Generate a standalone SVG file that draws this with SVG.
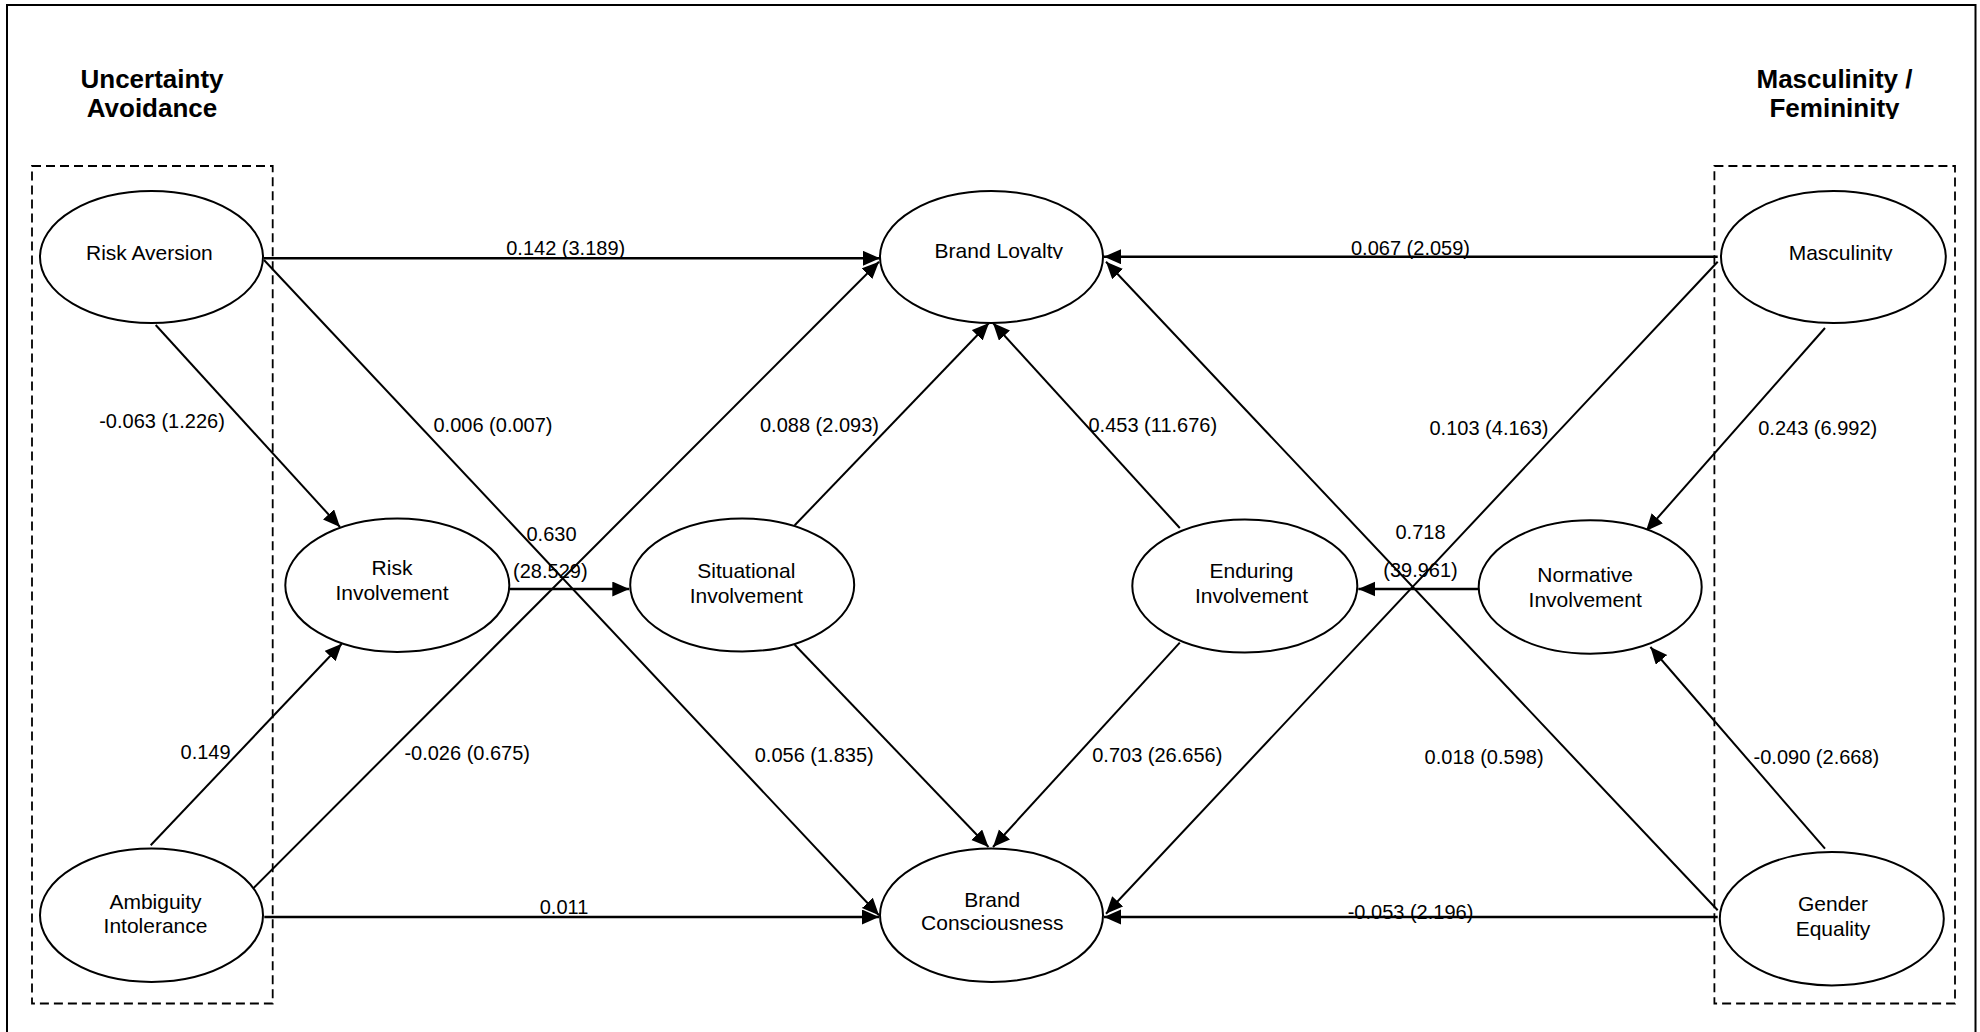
<svg xmlns="http://www.w3.org/2000/svg" width="1980" height="1032" viewBox="0 0 1980 1032">
  <style>
    .frame { fill: none; stroke: #000; stroke-width: 2; }
    .group { fill: none; stroke: #000; stroke-width: 1.8; stroke-dasharray: 9 5; }
    .node ellipse { fill: #fff; stroke: #000; stroke-width: 2; }
    .node text { font-family: "Liberation Sans", Arial, sans-serif; font-size: 21px; text-anchor: middle; fill: #000; }
    .title { font-family: "Liberation Sans", Arial, sans-serif; font-size: 26px; font-weight: bold; text-anchor: middle; fill: #000; }
    .edge { fill: none; stroke: #000; stroke-width: 2; marker-end: url(#arrow); }
    .edge.h { stroke-width: 2.6; }
    .lbl { font-family: "Liberation Sans", Arial, sans-serif; font-size: 20px; text-anchor: middle; fill: #000; }
  </style>
  <defs>
    <marker id="arrow" markerUnits="userSpaceOnUse" markerWidth="18" markerHeight="16" refX="17" refY="7.5" orient="auto">
      <path d="M0,0 L17,7.5 L0,15 Z" fill="#000"/>
    </marker>
    <clipPath id="clipLoyalty"><rect x="880" y="200" width="224" height="59"/></clipPath>
    <clipPath id="clipMasc"><rect x="1722" y="200" width="224" height="61"/></clipPath>
    <clipPath id="clipFem"><rect x="1700" y="90" width="270" height="29"/></clipPath>
  </defs>

  <rect width="1980" height="1032" fill="#fff"/>
  <!-- outer frame -->
  <rect class="frame" x="7" y="5" width="1968.5" height="1040"/>

  <!-- cultural dimension groupings -->
  <g id="uncertainty-avoidance">
    <text class="title" x="152" y="88">Uncertainty</text>
    <text class="title" x="152" y="117">Avoidance</text>
    <rect class="group" x="32" y="166" width="240.7" height="837.5"/>
  </g>
  <g id="masculinity-femininity">
    <text class="title" x="1834.5" y="88">Masculinity /</text>
    <text class="title" x="1834.5" y="117" clip-path="url(#clipFem)">Femininity</text>
    <rect class="group" x="1714.4" y="166" width="240.6" height="837.5"/>
  </g>

  <!-- connectors -->
  <g id="connectors">
    <line class="edge h" x1="264" y1="258.3" x2="880" y2="258.3"/>
    <line class="edge" x1="264" y1="260" x2="879" y2="915.3"/>
    <line class="edge" x1="155.7" y1="325" x2="340" y2="527"/>
    <line class="edge" x1="150.7" y1="845.3" x2="341.8" y2="643.7"/>
    <line class="edge" x1="251.3" y1="890.3" x2="879" y2="261.7"/>
    <line class="edge h" x1="264.3" y1="917" x2="879" y2="917"/>
    <line class="edge h" x1="509.3" y1="589" x2="629.3" y2="589"/>
    <line class="edge" x1="794.7" y1="525.3" x2="989" y2="323"/>
    <line class="edge" x1="794.7" y1="644.7" x2="988.5" y2="847"/>
    <line class="edge" x1="1179.8" y1="528" x2="993" y2="323"/>
    <line class="edge" x1="1179.8" y1="642.7" x2="993" y2="847"/>
    <line class="edge h" x1="1478" y1="589" x2="1358.3" y2="589"/>
    <line class="edge h" x1="1717.7" y1="256.7" x2="1104" y2="256.7"/>
    <line class="edge" x1="1717.7" y1="261.7" x2="1106" y2="913.7"/>
    <line class="edge" x1="1825" y1="328" x2="1646" y2="531"/>
    <line class="edge" x1="1825" y1="848.7" x2="1650.4" y2="647"/>
    <line class="edge" x1="1717.7" y1="910.3" x2="1106" y2="261.7"/>
    <line class="edge h" x1="1717.7" y1="917" x2="1104" y2="917"/>
  </g>

  <!-- path coefficients (t-values) -->
  <g id="labels">
    <text class="lbl" x="565.7" y="255">0.142 (3.189)</text>
    <text class="lbl" x="493" y="432">0.006 (0.007)</text>
    <text class="lbl" x="162" y="428">-0.063 (1.226)</text>
    <text class="lbl" x="205.6" y="758.7">0.149</text>
    <text class="lbl" x="467.2" y="760.3">-0.026 (0.675)</text>
    <text class="lbl" x="564" y="913.7">0.011</text>
    <text class="lbl" x="551.5" y="540.5">0.630</text>
    <text class="lbl" x="550.3" y="578">(28.529)</text>
    <text class="lbl" x="819.5" y="431.7">0.088 (2.093)</text>
    <text class="lbl" x="814.2" y="762">0.056 (1.835)</text>
    <text class="lbl" x="1152.8" y="431.7">0.453 (11.676)</text>
    <text class="lbl" x="1157.3" y="762">0.703 (26.656)</text>
    <text class="lbl" x="1420.5" y="539.3">0.718</text>
    <text class="lbl" x="1420.5" y="576.7">(39.961)</text>
    <text class="lbl" x="1410.5" y="255">0.067 (2.059)</text>
    <text class="lbl" x="1489" y="435">0.103 (4.163)</text>
    <text class="lbl" x="1817.7" y="435">0.243 (6.992)</text>
    <text class="lbl" x="1816.4" y="763.7">-0.090 (2.668)</text>
    <text class="lbl" x="1484.1" y="763.7">0.018 (0.598)</text>
    <text class="lbl" x="1410.5" y="919.3">-0.053 (2.196)</text>
  </g>

  <!-- constructs -->
  <g id="risk-aversion" class="node">
    <ellipse cx="151.5" cy="257" rx="111.5" ry="66"/>
    <text x="149.4" y="260">Risk Aversion</text>
  </g>
  <g id="brand-loyalty" class="node">
    <ellipse cx="991.5" cy="257" rx="111.5" ry="66"/>
    <text x="998.8" y="258" clip-path="url(#clipLoyalty)">Brand Loyalty</text>
  </g>
  <g id="masculinity" class="node">
    <ellipse cx="1833.4" cy="257" rx="112.4" ry="66"/>
    <text x="1840.6" y="260" clip-path="url(#clipMasc)">Masculinity</text>
  </g>
  <g id="risk-involvement" class="node">
    <ellipse cx="397.3" cy="585.3" rx="112" ry="66.7"/>
    <text x="392" y="575.3">Risk</text>
    <text x="392" y="600.3">Involvement</text>
  </g>
  <g id="situational-involvement" class="node">
    <ellipse cx="742.2" cy="585" rx="112" ry="66.5"/>
    <text x="746.3" y="578">Situational</text>
    <text x="746.3" y="602.7">Involvement</text>
  </g>
  <g id="enduring-involvement" class="node">
    <ellipse cx="1244.8" cy="586" rx="112.5" ry="66.5"/>
    <text x="1251.5" y="578">Enduring</text>
    <text x="1251.5" y="602.7">Involvement</text>
  </g>
  <g id="normative-involvement" class="node">
    <ellipse cx="1590.2" cy="587" rx="111.5" ry="66.7"/>
    <text x="1585.2" y="582">Normative</text>
    <text x="1585.2" y="607">Involvement</text>
  </g>
  <g id="ambiguity-intolerance" class="node">
    <ellipse cx="151.5" cy="915.3" rx="111.5" ry="66.7"/>
    <text x="155.5" y="908.7">Ambiguity</text>
    <text x="155.5" y="932.7">Intolerance</text>
  </g>
  <g id="brand-consciousness" class="node">
    <ellipse cx="991.5" cy="915.3" rx="111.5" ry="66.7"/>
    <text x="992.3" y="907">Brand</text>
    <text x="992.3" y="930.3">Consciousness</text>
  </g>
  <g id="gender-equality" class="node">
    <ellipse cx="1831.8" cy="918.7" rx="112" ry="66.7"/>
    <text x="1833" y="911.3">Gender</text>
    <text x="1833" y="936">Equality</text>
  </g>
</svg>
